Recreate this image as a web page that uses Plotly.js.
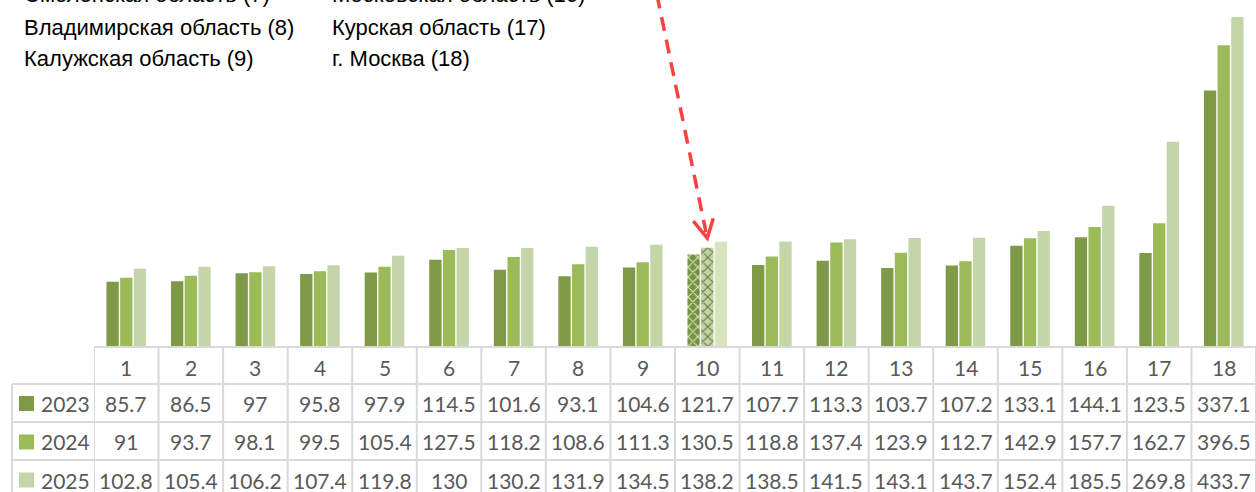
<!DOCTYPE html>
<html>
<head>
<meta charset="utf-8">
<script src="https://cdn.plot.ly/plotly-3.0.1.min.js"></script>
<style>
  html, body { margin: 0; padding: 0; background: #fff; }
  #chart { width: 1256px; height: 492px; }
</style>
</head>
<body>
<div id="chart"></div>
<script>
// region numbers (see the notes at the top of the chart)
const regions = [1, 2, 3, 4, 5, 6, 7, 8, 9, 10, 11, 12, 13, 14, 15, 16, 17, 18];
const years = ["2023", "2024", "2025"];
const v2023 = [85.7, 86.5, 97, 95.8, 97.9, 114.5, 101.6, 93.1, 104.6, 121.7, 107.7, 113.3, 103.7, 107.2, 133.1, 144.1, 123.5, 337.1];
const v2024 = [91, 93.7, 98.1, 99.5, 105.4, 127.5, 118.2, 108.6, 111.3, 130.5, 118.8, 137.4, 123.9, 112.7, 142.9, 157.7, 162.7, 396.5];
const v2025 = [102.8, 105.4, 106.2, 107.4, 119.8, 130, 130.2, 131.9, 134.5, 138.2, 138.5, 141.5, 143.1, 143.7, 152.4, 185.5, 269.8, 433.7];
const notesLeft = ["Смоленская область (7)", "Владимирская область (8)", "Калужская область (9)"];
const notesRight = ["Московская область (16)", "Курская область (17)", "г. Москва (18)"];
const highlighted = 10;

const colors = ["#7E9A47", "#9BBB59", "#C4D6A8"];
const hlColors = ["#76923C", "#C3D69B", "#D8E4BD"];
const series = [v2023, v2024, v2025];

// page geometry (px)
const W = 1256, H = 492, L = 94, B = 145;
const plotH = H - B, plotW = W - L;
const py = p => (plotH - p) / plotH;   // pixel row -> paper y
const px = p => (p - L) / plotW;       // pixel col -> paper x

const textFont = { family: "Lato, 'Open Sans', sans-serif", size: 21, color: "#595959" };
const gridColor = "#D9D9D9";

const traces = series.map((vals, s) => ({
    type: "bar",
    name: years[s],
    x: regions,
    y: vals,
    marker: {
        color: regions.map(r => r === highlighted ? hlColors[s] : colors[s]),
        line: { width: 0 },
        pattern: s < 2 ? {
            shape: regions.map(r => r === highlighted ? "x" : ""),
            fillmode: "overlay",
            fgcolor: "#ffffff",
            fgopacity: 0.7,
            size: 7,
            solidity: 0.3
        } : undefined
    },
    hoverinfo: "x+y+name"
}));

const shapes = [];
const annotations = [];

// table borders
shapes.push({ type: "line", xref: "paper", yref: "paper", x0: 0, x1: 1, y0: py(347), y1: py(347),
    line: { color: gridColor, width: 2 } });
[384, 422, 460].forEach(r => shapes.push({ type: "line", xref: "paper", yref: "paper",
    x0: px(12), x1: 1, y0: py(r), y1: py(r), line: { color: gridColor, width: 2 } }));
for (let k = 0; k <= regions.length; k++) {
    shapes.push({ type: "line", xref: "x", yref: "paper", x0: k + 0.5, x1: k + 0.5,
        y0: py(347), y1: py(H + 5), line: { color: gridColor, width: 2 } });
}
shapes.push({ type: "line", xref: "paper", yref: "paper", x0: px(12), x1: px(12),
    y0: py(384), y1: py(H + 5), line: { color: gridColor, width: 2 } });

// header row
regions.forEach(r => annotations.push({ xref: "x", yref: "paper", x: r, y: py(367.5),
    text: String(r), showarrow: false, font: textFont, xanchor: "center", yanchor: "middle" }));

// value rows with legend keys
const rowCenters = [403.5, 442, 480];
series.forEach((vals, s) => {
    const c = rowCenters[s];
    vals.forEach((v, i) => annotations.push({ xref: "x", yref: "paper", x: regions[i], y: py(c),
        text: String(v), showarrow: false, font: textFont, xanchor: "center", yanchor: "middle" }));
    shapes.push({ type: "rect", xref: "paper", yref: "paper", x0: px(19), x1: px(34),
        y0: py(c - 7.5), y1: py(c + 7.5), fillcolor: colors[s], line: { width: 0 } });
    annotations.push({ xref: "paper", yref: "paper", x: px(39), y: py(c), text: years[s],
        showarrow: false, font: textFont, xanchor: "left", yanchor: "middle" });
});

// region notes at the top
const noteFont = { family: "'Liberation Sans', Arial, sans-serif", size: 22, color: "#000000" };
const noteRows = [-5, 27, 59];
notesLeft.forEach((t, i) => annotations.push({ xref: "paper", yref: "paper", x: px(21.5), y: py(noteRows[i]),
    text: t, showarrow: false, font: noteFont, xanchor: "left", yanchor: "middle" }));
notesRight.forEach((t, i) => annotations.push({ xref: "paper", yref: "paper", x: px(330), y: py(noteRows[i]),
    text: t, showarrow: false, font: noteFont, xanchor: "left", yanchor: "middle" }));

// dashed arrow pointing at the highlighted region
const arrowTipY = v2024[highlighted - 1] + 12.5;
shapes.push({ type: "line", xref: "x", yref: "y", x0: highlighted - 0.78, y0: 463, x1: highlighted - 0.02, y1: arrowTipY + 8,
    line: { color: "#FF4040", width: 3.5, dash: "14px,9px" } });
shapes.push({ type: "path", xref: "x", yref: "y", xsizemode: "pixel", ysizemode: "pixel",
    xanchor: highlighted, yanchor: arrowTipY, path: "M -14,17 L 0,0 L 6,20",
    line: { color: "#FF4040", width: 3.5 } });

const layout = {
    width: W, height: H,
    margin: { l: L, r: 0, t: 0, b: B, pad: 0 },
    paper_bgcolor: "#ffffff",
    plot_bgcolor: "#ffffff",
    barmode: "group",
    bargap: 0.365,
    bargroupgap: 0.1,
    showlegend: false,
    xaxis: { range: [0.5, 18.5], showticklabels: false, showgrid: false, zeroline: false, showline: false, ticks: "", fixedrange: true },
    yaxis: { range: [0, 456], visible: false, fixedrange: true },
    shapes: shapes,
    annotations: annotations
};

Plotly.newPlot("chart", traces, layout, { displayModeBar: false, staticPlot: true });
</script>
</body>
</html>
